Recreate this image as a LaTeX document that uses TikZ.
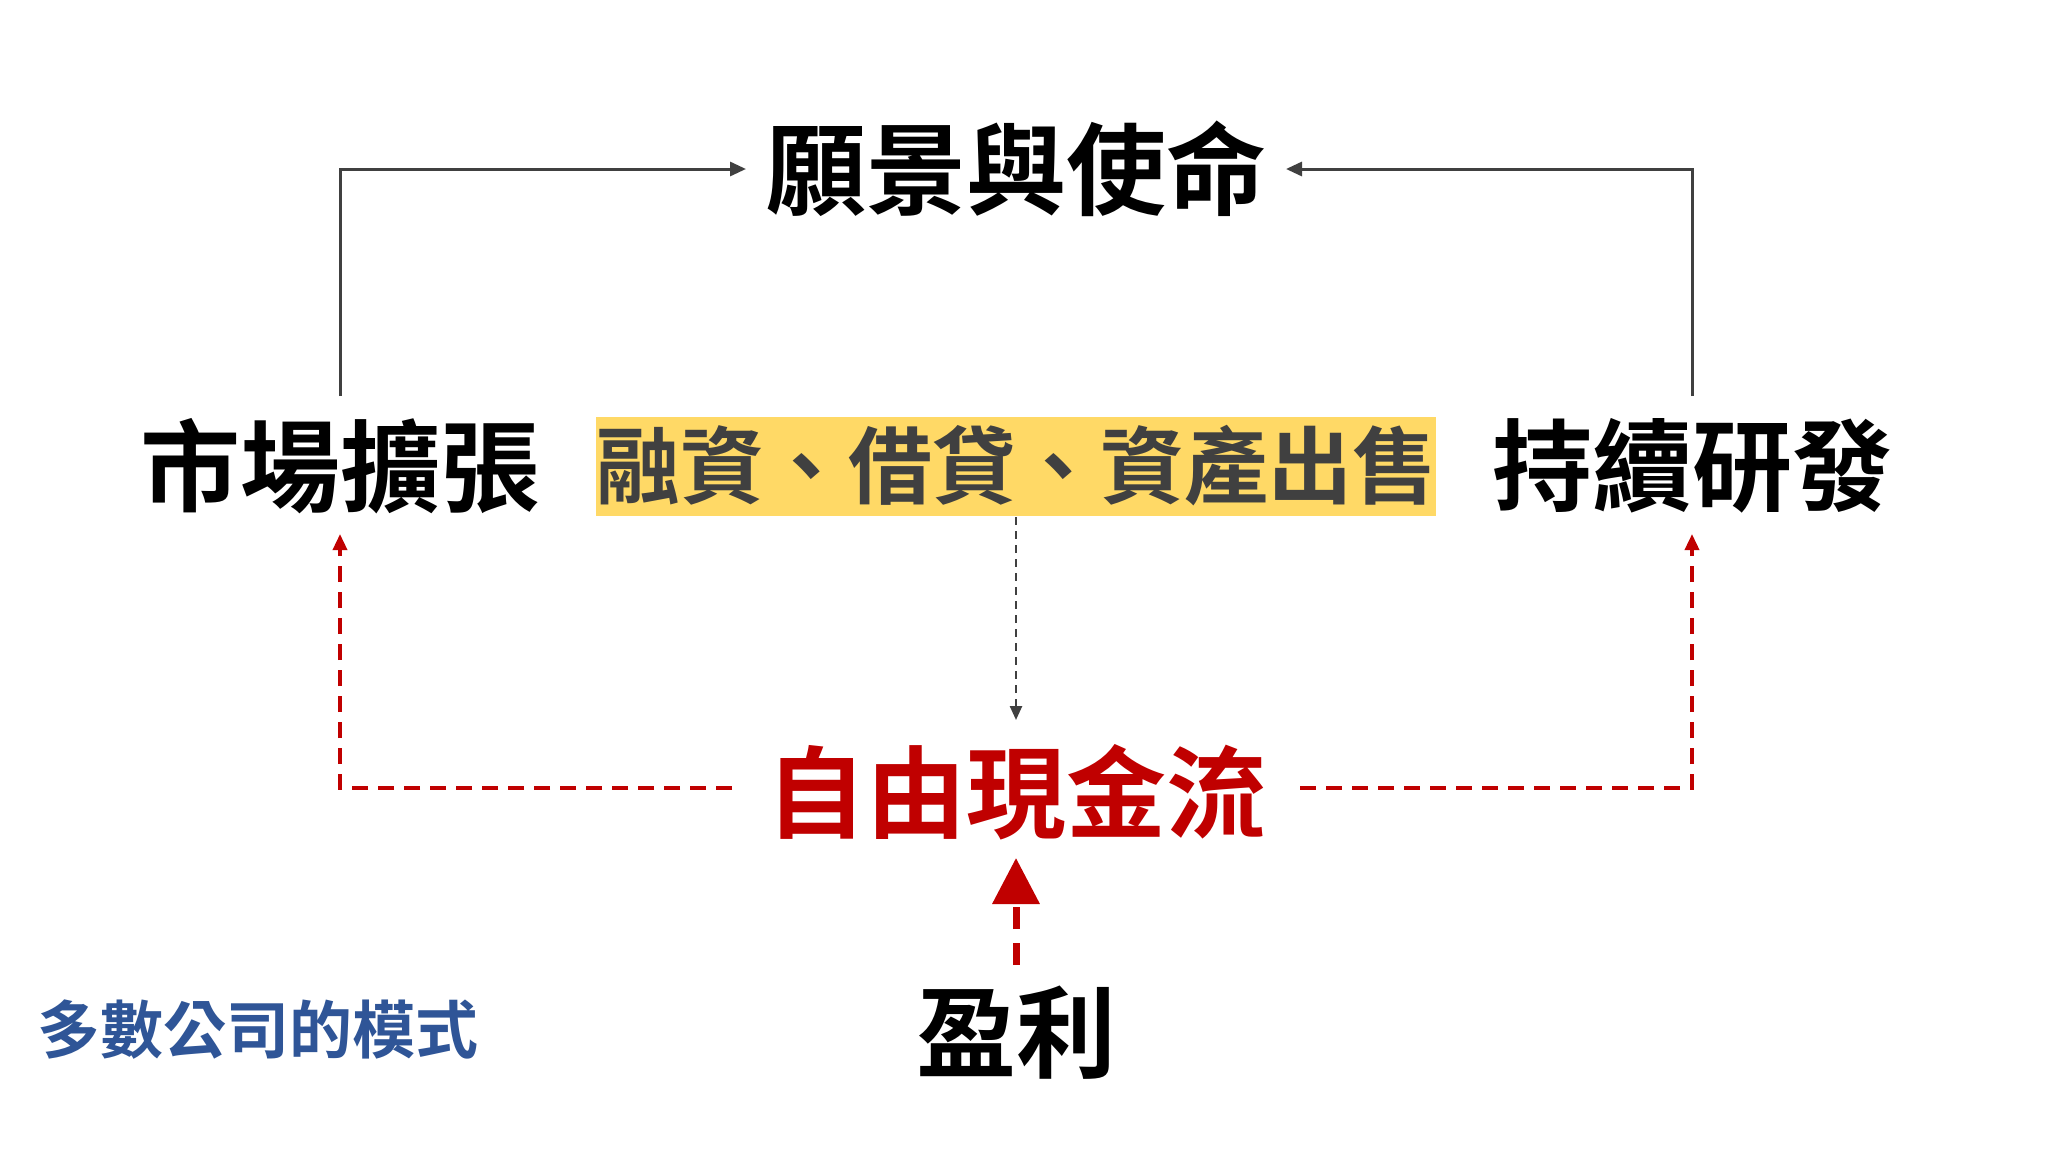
\documentclass[tikz,border=0pt]{standalone}
\usepackage{fontspec}
\newfontfamily\cjk{Noto Sans CJK TC}[BoldFont={* Bold}]
\usetikzlibrary{arrows.meta}
\definecolor{dred}{HTML}{C00000}
\definecolor{dblue}{HTML}{2F5597}
\definecolor{ybox}{HTML}{FFD966}
\definecolor{lgray}{HTML}{404040}
\begin{document}
\begin{tikzpicture}[x=1pt,y=-1pt,
  big/.style={font=\cjk\bfseries\fontsize{100}{110}\selectfont,inner sep=0pt},
  grayline/.style={draw=lgray,line width=3pt,-{Triangle[length=16pt,width=14pt]}},
  reddash/.style={draw=dred,line width=3.5pt,dash pattern=on 16pt off 10pt,-{Triangle[length=16pt,width=14pt]}}]
\useasboundingbox (0,0) rectangle (2048,1152);
\fill[white] (0,0) rectangle (2048,1152);
\node[big] (vision) at (1016,169) {願景與使命};
\node[big] (market) at (340,466) {市場擴張};
\node[big] (rd) at (1692,466) {持續研發};
\node[fill=ybox,minimum width=797pt,minimum height=99pt,inner sep=0pt,text=lgray,font=\cjk\bfseries\fontsize{84}{90}\selectfont] (fin) at (1016,466) {融資、借貸、資產出售};
\node[big,text=dred] (fcf) at (1016,792) {自由現金流};
\node[big] (profit) at (1016,1033) {盈利};
\node[font=\cjk\bfseries\fontsize{63}{70}\selectfont,text=dblue,anchor=west,inner sep=0pt] (mode) at (37,1030) {多數公司的模式};
\coordinate (mtop) at (340,396);
\coordinate (mc) at (340,169);
\coordinate (rtop) at (1692,396);
\coordinate (rc) at (1692,169);
\draw[grayline] (mtop) -- (mc) -- (746,169);
\draw[grayline] (rtop) -- (rc) -- (1286,169);
\coordinate (fb) at (1016,517);
\coordinate (fe) at (1016,720);
\draw[draw=lgray,line width=2.5pt,dash pattern=on 8pt off 6pt,-{Triangle[length=14pt,width=12pt]}] (fb) -- (fe);
\coordinate (fl) at (732,788);
\coordinate (lc) at (340,788);
\coordinate (la) at (340,534);
\coordinate (fr) at (1300,788);
\coordinate (rcn) at (1692,788);
\coordinate (ra) at (1692,534);
\draw[reddash] (fl) -- (lc) -- (la);
\draw[reddash] (fr) -- (rcn) -- (ra);
\coordinate (pb) at (1016,965);
\coordinate (pe) at (1016,858);
\draw[draw=dred,line width=7pt,dash pattern=on 22pt off 14pt,-{Triangle[length=46pt,width=46pt]}] (pb) -- (pe);
\end{tikzpicture}
\end{document}
